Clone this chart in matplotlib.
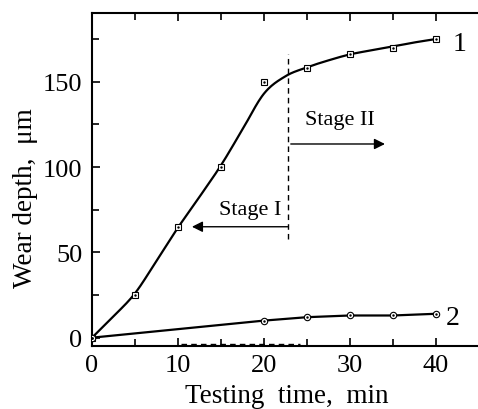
import numpy as np
import matplotlib
matplotlib.use("Agg")
import matplotlib.pyplot as plt
from matplotlib.ticker import MultipleLocator

# measured data
t1 = [0, 5, 10, 15, 20, 25, 30, 35, 40]
w1 = [0, 25, 65, 100, 150, 158, 166, 170, 175]
t2 = [0, 20, 25, 30, 35, 40]
w2 = [0, 10, 12, 13, 13, 14]

# fitted curve for series 1 (knots every 2.5 min)
fit_t = [0, 2.5, 5, 7.5, 10, 12.5, 15, 17.5, 20, 22.5, 25, 27.5, 30, 32.5, 35, 37.5, 40]
fit_w = [0, 12.5, 26, 45, 64.5, 82.5, 101, 122, 143, 153.2, 158.4, 162.5, 166, 168.4, 170.6, 173, 175]

plt.rcParams['font.family'] = ['Liberation Serif', 'DejaVu Serif']

def catmull(x, y, n=20):
    x = np.asarray(x, float); y = np.asarray(y, float)
    P = np.column_stack([x, y])
    P = np.vstack([2*P[0] - P[1], P, 2*P[-1] - P[-2]])
    out = []
    for i in range(1, len(P) - 2):
        p0, p1, p2, p3 = P[i-1], P[i], P[i+1], P[i+2]
        s = np.linspace(0, 1, n, endpoint=False)[:, None]
        pts = 0.5 * ((2*p1) + (-p0 + p2)*s + (2*p0 - 5*p1 + 4*p2 - p3)*s**2 + (-p0 + 3*p1 - 3*p2 + p3)*s**3)
        out.append(pts)
    out.append(P[-2][None, :])
    out = np.vstack(out)
    return out[:, 0], out[:, 1]

fig = plt.figure(figsize=(4.78, 4.10), dpi=100)
ax = fig.add_axes([0.1925, 0.154, 0.8075, 0.812])

fx, fy = catmull(fit_t, fit_w)
ax.plot(fx, fy, color='black', lw=1.6, zorder=2)
ax.plot(t2, w2, color='black', lw=1.6, zorder=2)

ax.plot(t1, w1, ls='none', marker='s', ms=4.8, mfc='white', mec='black', mew=0.8, zorder=3)
ax.plot(t1, w1, ls='none', marker='.', ms=1.5, color='black', zorder=4)
ax.plot(t2, w2, ls='none', marker='o', ms=4.6, mfc='white', mec='black', mew=0.8, zorder=3)
ax.plot(t2, w2, ls='none', marker='.', ms=1.5, color='black', zorder=4)

# stage divider
ax.plot([22.8, 22.8], [58, 166], color='black', lw=1.0, ls=(0, (4, 3)))
ax.plot([10.4, 24.2], [-3.9, -3.9], color='black', lw=1.0, ls=(0, (4, 3)))
ax.annotate('', xy=(11.3, 65), xytext=(23.1, 65),
            arrowprops=dict(arrowstyle='-|>', color='black', lw=1.0, mutation_scale=16))
ax.annotate('', xy=(34.4, 113.5), xytext=(22.8, 113.5),
            arrowprops=dict(arrowstyle='-|>', color='black', lw=1.0, mutation_scale=16))
ax.text(18.4, 75, 'Stage I', fontsize=16, ha='center', va='center')
ax.text(28.8, 128, 'Stage II', fontsize=16, ha='center', va='center')
ax.text(42.8, 172.5, '1', fontsize=20, ha='center', va='center')
ax.text(42.0, 12, '2', fontsize=20, ha='center', va='center')

ax.set_xlim(0, 44.9)
ax.set_ylim(-4.8, 190.3)
ax.xaxis.set_major_locator(MultipleLocator(10))
ax.xaxis.set_minor_locator(MultipleLocator(5))
ax.yaxis.set_major_locator(MultipleLocator(50))
ax.yaxis.set_minor_locator(MultipleLocator(25))
ax.tick_params(which='both', direction='in', top=True, right=False, width=1.2)
ax.tick_params(which='major', length=6, labelsize=19)
ax.tick_params(which='minor', length=5)
ax.tick_params(axis='x', which='major', pad=6)
ax.tick_params(axis='y', which='major', pad=7)
ax.spines['right'].set_visible(False)
for s in ['left', 'bottom', 'top']:
    ax.spines[s].set_linewidth(1.5)

fig.text(0.053, 0.517, 'Wear depth,  μm', fontsize=19.5, rotation=90, ha='center', va='center')
fig.text(0.60, 0.002, 'Testing  time,  min', fontsize=19.5, ha='center', va='bottom')

fig.savefig('out.png', dpi=100)
